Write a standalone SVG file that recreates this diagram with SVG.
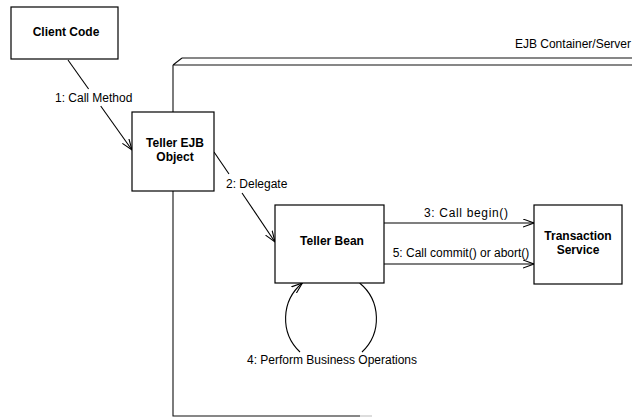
<svg xmlns="http://www.w3.org/2000/svg" width="632" height="419" viewBox="0 0 632 419">
<defs>
<style>
.box{fill:#fff;stroke:#000;stroke-width:1.2}
.ln{fill:none;stroke:#000;stroke-width:1.1}
.ct{fill:none;stroke:#111;stroke-width:1.1}
.nl{font-family:"Liberation Sans",Arial,sans-serif;font-size:12px;font-weight:bold;text-anchor:middle;fill:#000}
.lb{font-family:"Liberation Sans",Arial,sans-serif;font-size:12px;fill:#000}
</style>
<marker id="open" markerUnits="userSpaceOnUse" markerWidth="12" markerHeight="10" refX="11" refY="4.5" orient="auto" viewBox="0 0 12 10">
<path d="M0,0.5 L11,4.5 L0,8.5" fill="none" stroke="#000" stroke-width="1.1"/>
</marker>
</defs>
<rect width="632" height="419" fill="#fff"/>
<g id="container">
<path class="ct" d="M182,58 L632,58 M173,65 L632,65 M173,65 L182,58 M173,65 L173,416 L360,416"/>
<path d="M360,416 L372,416" stroke="#bbb" stroke-width="1" fill="none"/>
<text class="lb" x="631" y="48" text-anchor="end">EJB Container/Server</text>
</g>
<g id="connectors">
<line class="ln" x1="68" y1="60" x2="88.6" y2="89"/>
<line class="ln" x1="100.7" y1="106" x2="132" y2="150" marker-end="url(#open)"/>
<text class="lb" x="55" y="102">1: Call Method</text>
<line class="ln" x1="214" y1="152" x2="229" y2="174"/>
<line class="ln" x1="242" y1="193" x2="275" y2="242" marker-end="url(#open)"/>
<text class="lb" x="226" y="188">2: Delegate</text>
<line class="ln" x1="384" y1="223" x2="534" y2="223" marker-end="url(#open)"/>
<text class="lb" x="424" y="217" textLength="84" lengthAdjust="spacing">3: Call begin()</text>
<line class="ln" x1="384" y1="264" x2="534" y2="264" marker-end="url(#open)"/>
<text class="lb" x="461" y="257" text-anchor="middle">5: Call commit() or abort()</text>
<path class="ln" d="M359.6,283 A46,46 0 0 1 362,352"/>
<path class="ln" d="M300,352 A46,46 0 0 1 302.4,283" marker-end="url(#open)"/>
<text class="lb" x="332" y="364" text-anchor="middle">4: Perform Business Operations</text>
</g>
<g id="client-code">
<rect class="box" x="11" y="7" width="107" height="52"/>
<text class="nl" x="66" y="36">Client Code</text>
</g>
<g id="teller-ejb-object">
<rect class="box" x="132" y="112" width="82" height="79"/>
<text class="nl" x="175" y="147">Teller EJB</text>
<text class="nl" x="175" y="161">Object</text>
</g>
<g id="teller-bean">
<rect class="box" x="275" y="205" width="109" height="78"/>
<text class="nl" x="332" y="245">Teller Bean</text>
</g>
<g id="transaction-service">
<rect class="box" x="534" y="205" width="88" height="79"/>
<text class="nl" x="578" y="240">Transaction</text>
<text class="nl" x="578" y="254">Service</text>
</g>
</svg>
